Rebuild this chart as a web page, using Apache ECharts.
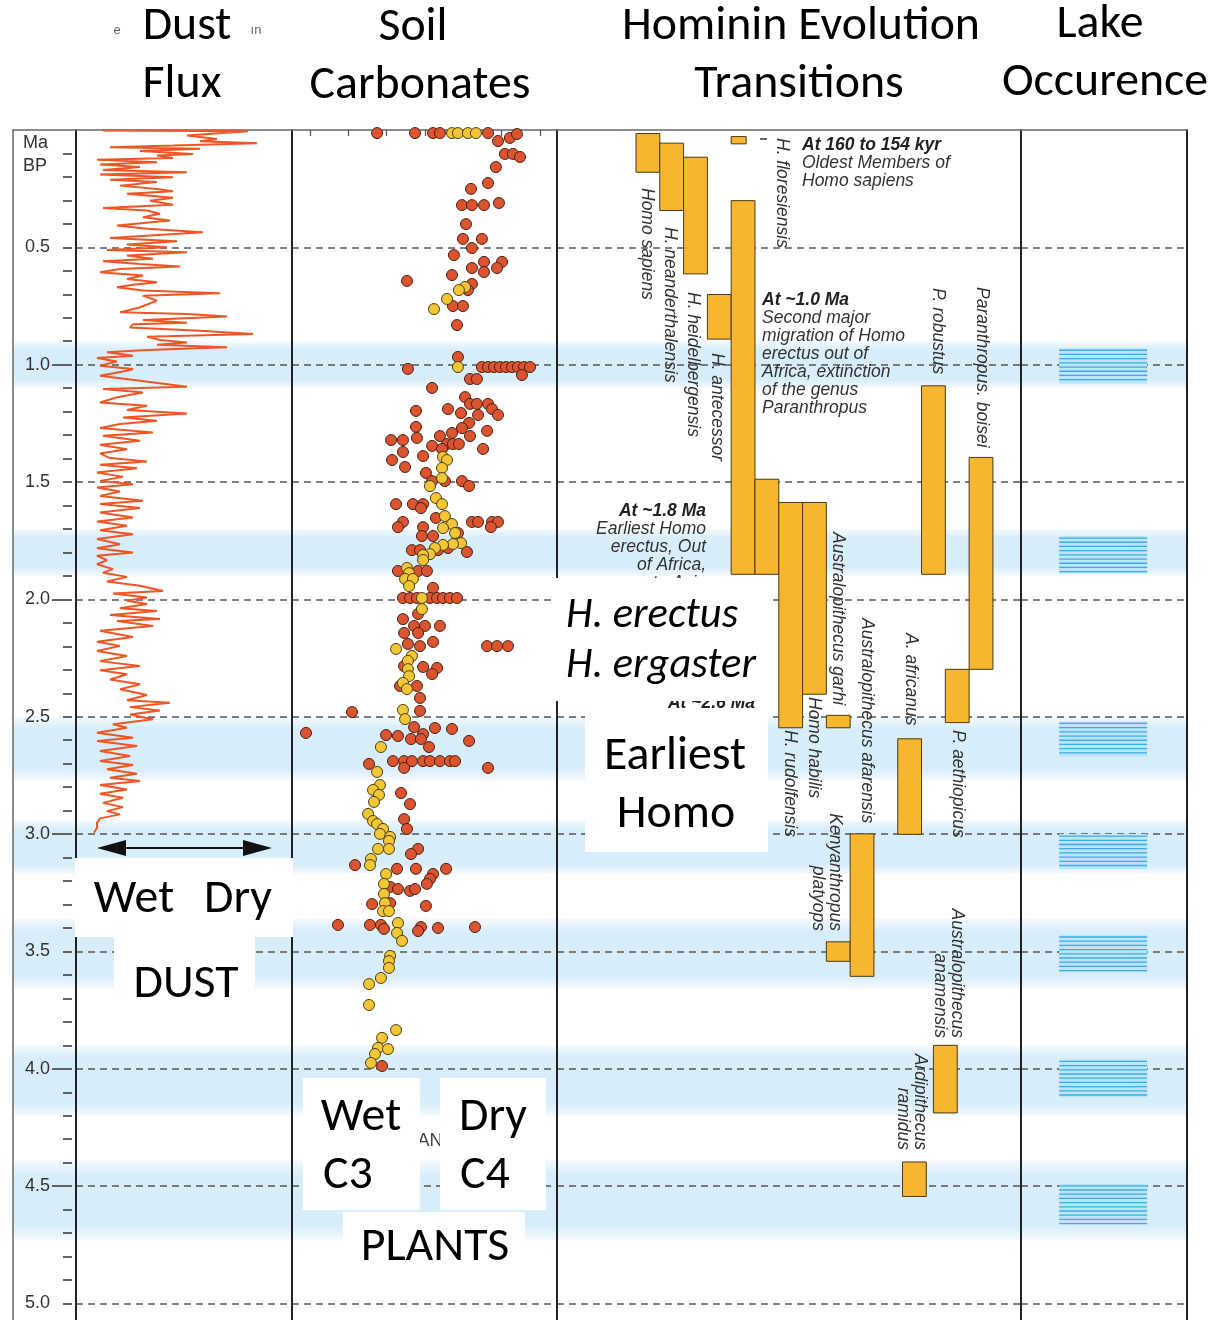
<!DOCTYPE html>
<html><head><meta charset="utf-8">
<script src="https://cdn.jsdelivr.net/npm/echarts@6/dist/echarts.min.js"></script>
<style>html,body{margin:0;padding:0;background:#fff}#c{width:1225px;height:1320px}</style>
</head><body><div id="c"></div>
<script>
// ---------------- DATA ----------------
// Age axis (Ma BP) tick labels
const ageLabels = [0.5,1.0,1.5,2.0,2.5,3.0,3.5,4.0,4.5,5.0];
const longTickAges = [1.0,2.0,3.0,4.0,4.5];

// Dust flux (arbitrary units, wet -> dry) against age (Ma)
const dustAge = [0.002,0.005,0.023,0.038,0.048,0.056,0.066,0.073,0.080,0.090,0.102,0.109,0.119,0.127,0.137,0.147,0.158,0.170,0.180,0.190,0.201,0.212,0.222,0.237,0.251,0.261,0.272,0.289,0.301,0.318,0.332,0.343,0.357,0.372,0.386,0.407,0.421,0.436,0.450,0.460,0.474,0.488,0.500,0.511,0.521,0.535,0.549,0.559,0.571,0.582,0.592,0.606,0.620,0.635,0.649,0.659,0.670,0.684,0.696,0.706,0.727,0.755,0.777,0.784,0.795,0.810,0.821,0.828,0.841,0.855,0.869,0.881,0.895,0.905,0.915,0.926,0.937,0.947,0.962,0.971,0.986,1.004,1.018,
1.026,1.047,1.068,1.094,1.104,1.118,1.139,1.161,1.175,1.193,1.208,1.225,1.239,1.253,1.270,1.289,1.303,1.324,1.341,1.360,1.378,1.398,1.412,1.426,1.441,1.459,1.478,1.495,1.509,1.523,1.540,1.559,1.580,1.594,1.611,1.630,1.651,1.668,1.686,1.705,1.722,1.743,1.765,1.782,1.800,1.814,1.833,1.850,1.871,1.886,1.904,1.924,1.942,1.964,1.975,1.992,2.006,2.020,2.038,2.049,2.066,2.084,
2.092,2.113,2.134,2.160,2.180,2.198,2.220,2.241,2.263,2.284,2.302,2.319,2.341,2.362,2.383,2.407,2.430,2.440,2.459,2.473,2.490,2.511,2.532,2.547,2.568,2.589,2.603,2.625,2.646,2.667,2.689,2.706,2.724,2.743,2.760,2.774,2.791,2.810,2.828,2.845,2.867,2.885,2.902,2.916,2.933,2.952,2.973,2.994];
const dustFlux = [27,172,111,141,124,181,97,34,124,64,117,81,97,21,81,24,64,27,111,24,97,34,81,44,81,97,51,97,74,97,27,71,84,67,94,41,71,127,74,34,101,51,91,31,111,51,77,27,64,104,44,24,67,51,81,57,41,67,144,67,81,64,44,111,151,67,111,57,54,124,177,71,84,111,81,151,71,31,57,21,41,24,57,
51,24,64,111,27,67,41,24,71,51,111,47,81,44,24,77,27,64,24,51,24,34,71,24,61,21,47,24,57,21,44,24,67,24,64,24,57,21,51,24,57,21,44,21,57,21,31,21,37,27,51,31,64,87,37,71,51,71,44,81,34,84,
41,77,24,57,21,44,21,51,24,64,24,51,34,64,44,71,51,94,54,84,54,77,37,51,21,57,21,61,24,54,24,57,31,61,34,64,24,51,24,47,27,47,31,44,24,21,21,18];

// Soil carbonate d13C (per mil) vs age (Ma): C4-rich (red) and C3-rich (yellow) samples
const soilRed = [[-8.50,0.013],[-6.52,0.013],[-5.58,0.013],[-5.22,0.013],[-2.71,0.013],[-1.57,0.034],[-1.20,0.017],[-2.19,0.047],[-1.83,0.102],[-1.41,0.102],[-1.04,0.115],[-2.30,0.158],[-2.71,0.226],[-3.60,0.251],[-2.14,0.311],[-4.07,0.320],[-3.55,0.320],[-2.92,0.320],[-3.86,0.401],[-4.02,0.464],[-3.03,0.464],[-3.55,0.503],[-4.49,0.533],[-2.92,0.562],[-1.98,0.562],[-3.55,0.588],[-2.24,0.588],[-2.92,0.605],[-4.59,0.618],[-6.94,0.643],[-3.55,0.656],[-3.76,0.682],[-4.54,0.750],[-4.02,0.750],[-4.33,0.831],[-4.28,0.967],[-6.89,1.018],
[-3.03,1.010],[-2.71,1.010],[-2.40,1.010],[-2.09,1.010],[-1.77,1.010],[-1.46,1.010],[-1.15,1.010],[-0.83,1.010],[-0.52,1.010],
[-0.94,1.044],[-3.65,1.061],[-3.29,1.061],[-5.63,1.099],[-3.91,1.138],[-3.65,1.167],[-3.29,1.167],[-2.71,1.167],[-4.80,1.189],[-2.50,1.189],[-6.47,1.197],[-4.12,1.206],[-3.23,1.214],[-2.19,1.214],[-3.70,1.248],[-6.47,1.265],[-4.07,1.270],[-2.76,1.282],[-4.59,1.291],[-5.22,1.304],[-3.65,1.304],[-6.42,1.312],[-7.77,1.321],[-7.15,1.321],[-4.85,1.338],[-4.54,1.338],[-4.23,1.338],[-5.63,1.346],[-5.11,1.359],[-2.97,1.359],[-7.15,1.372],[-6.10,1.389],[-7.72,1.406],[-7.04,1.436],[-5.95,1.461],[-5.63,1.496],[-4.96,1.496],[-4.07,1.496],[-3.70,1.517],[-7.51,1.594],[-6.63,1.594],[-6.10,1.594],[-6.21,1.611],[-5.43,1.653],[-7.15,1.670],[-3.55,1.670],[-3.23,1.670],[-2.50,1.670],[-2.19,1.670],[-7.41,1.692],[-6.10,1.692],[-2.56,1.692],[-4.28,1.717],[-6.16,1.730],[-5.58,1.730],[-4.80,1.781],[-6.68,1.790],[-6.26,1.790],[-5.32,1.790],[-3.81,1.798],[-7.41,1.879],[-6.36,1.879],[-5.90,1.879],[-5.58,1.951],
[-7.15,1.994],[-6.78,1.994],[-6.42,1.994],[-5.74,1.994],[-5.37,1.994],[-5.06,1.994],[-4.70,1.994],[-4.33,1.994],
[-6.36,2.062],[-7.15,2.084],[-6.57,2.113],[-6.00,2.113],[-5.22,2.113],[-7.09,2.143],[-6.36,2.143],[-6.89,2.190],[-6.26,2.199],[-5.58,2.181],[-2.76,2.199],[-2.24,2.199],[-1.67,2.199],[-7.09,2.284],[-6.10,2.288],[-5.37,2.292],[-5.63,2.318],[-7.30,2.369],[-6.42,2.369],[-6.26,2.420],[-6.26,2.475],[-9.81,2.480],[-6.57,2.544],[-5.48,2.548],[-4.59,2.552],[-12.21,2.569],[-8.03,2.578],[-7.41,2.582],[-6.10,2.574],[-6.73,2.595],[-6.21,2.595],[-3.70,2.603],[-5.79,2.629],
[-7.67,2.689],[-7.09,2.689],[-6.68,2.689],[-6.10,2.689],[-5.74,2.689],[-5.22,2.689],[-4.70,2.689],[-4.43,2.689],
[-8.92,2.701],[-7.09,2.718],[-2.71,2.718],[-7.25,2.825],[-6.78,2.872],[-7.09,2.936],[-6.94,2.978],[-6.36,3.063],[-6.73,3.085],[-9.65,3.132],[-7.46,3.148],[-6.47,3.148],[-4.90,3.148],[-5.58,3.170],[-5.74,3.191],[-5.90,3.212],[-7.82,3.225],[-7.41,3.234],[-6.78,3.242],[-6.52,3.234],[-7.82,3.294],[-8.76,3.298],[-5.95,3.306],[-10.54,3.387],[-8.87,3.387],[-8.30,3.387],[-5.32,3.400],[-3.39,3.396],[-6.21,3.396],[-8.14,3.404],[-6.36,3.413],[-8.24,3.988]];
const soilYellow = [[-4.59,0.013],[-4.28,0.013],[-3.76,0.013],[-3.34,0.013],[-3.91,0.669],[-4.23,0.682],[-4.85,0.720],[-5.53,0.763],[-4.28,1.010],[-5.06,1.393],[-4.85,1.406],[-5.11,1.440],[-5.11,1.483],[-5.74,1.517],[-5.43,1.568],[-5.11,1.594],[-4.96,1.645],[-4.59,1.679],[-5.06,1.696],[-4.43,1.717],[-4.12,1.760],[-4.54,1.764],[-5.06,1.768],[-5.48,1.781],[-5.74,1.807],[-6.10,1.811],[-6.10,1.832],[-6.94,1.866],[-6.83,1.888],[-7.04,1.913],[-6.63,1.913],[-6.83,1.943],[-6.16,1.994],[-6.16,2.041],[-7.51,2.211],[-6.68,2.241],[-6.89,2.262],[-6.89,2.297],[-6.83,2.327],[-7.15,2.356],[-6.94,2.382],[-7.15,2.471],[-7.04,2.510],[-8.30,2.629],[-8.50,2.735],[-8.35,2.791],[-8.71,2.812],[-8.40,2.833],[-8.66,2.863],[-8.97,2.914],[-8.71,2.944],[-8.50,2.957],[-8.19,2.978],[-8.35,2.999],[-7.82,3.012],[-7.88,3.029],[-8.45,3.063],[-7.88,3.063],[-8.82,3.106],[-8.87,3.132],[-8.03,3.170],[-8.14,3.212],[-8.14,3.255],[-8.09,3.294],[-8.19,3.328],[-7.88,3.328],[-7.41,3.379],[-7.46,3.421],[-7.20,3.455],[-7.82,3.519],[-7.88,3.541],[-7.88,3.570],[-8.30,3.613],[-8.92,3.639],[-8.92,3.728],[-7.51,3.835],[-8.24,3.868],[-8.45,3.911],[-7.93,3.916],[-8.61,3.937],[-8.82,3.975]];
const soilTicks = [-12,-10,-8,-6,-4,-2,0];

// Hominin taxa: lane (column), first and last appearance (Ma)
const taxa    = ['Homo sapiens','H. neanderthalensis','H. heidelbergensis','H. floresiensis','H. antecessor','H. erectus','H. ergaster','H. rudolfensis','Homo habilis','Australopithecus garhi','Kenyanthropus platyops','Australopithecus afarensis','A. africanus','Ardipithecus ramidus','P. robustus','Australopithecus anamensis','P. aethiopicus','Paranthropus boisei'];
const taxaLane  = [0,1,2,4,3,4,5,6,7,8,8,9,11,11.2,12,12.5,13,14];
const taxaStart = [0.015,0.056,0.116,0.028,0.701,0.301,1.488,1.587,1.587,2.494,3.459,2.999,2.594,4.397,1.090,3.900,2.298,1.395];
const taxaEnd   = [0.180,0.343,0.613,0.059,0.891,1.893,1.893,2.547,2.404,2.547,3.542,3.606,3.001,4.544,1.893,4.188,2.525,2.298];

// Lake highstand bands (background) and lake occurrence blocks (Ma)
const bandTop    = [0.90,1.70,2.50,2.94,3.36,3.90,4.39];
const bandBottom = [1.10,1.90,2.77,3.17,3.66,4.20,4.73];
const lakeTop    = [0.93,1.73,2.52,3.00,3.43,3.96,4.49];
const lakeBottom = [1.08,1.89,2.67,3.15,3.59,4.12,4.66];

// ---------------- LAYOUT ----------------
const TOP = 130, PXMA = 234.7, H = 1190, AGE_MAX = H / PXMA;
const minorTicks = []; for (let i = 1; i <= 50; i++) minorTicks.push(i / 10);

const BIG = 'Carlito, Lato, "Open Sans", sans-serif';
const SANS = '"Liberation Sans", Arial, Helvetica, sans-serif';
const cx = document.createElement('canvas').getContext('2d');
function tw(t, font) { cx.font = font; return cx.measureText(t).width; }
const bigSize = 100 * 358 / tw('Hominin Evolution', '100px ' + BIG);
const itSize = 100 * 190 / tw('H. ergaster', 'italic 100px ' + BIG);

const chart = echarts.init(document.getElementById('c'), null, {renderer: 'canvas', width: 1225, height: 1320});

const dash = {show: true, showMinLine: false, showMaxLine: false, lineStyle: {type: [7, 5], color: '#555', width: 1.5}};
function yA(grid, extra) {
  return Object.assign({gridIndex: grid, type: 'value', inverse: true, min: 0, max: AGE_MAX, interval: 0.5, z: 1,
    axisLabel: {show: false}, axisTick: {show: false}, axisLine: {show: false, onZero: false}, splitLine: {show: false}}, extra);
}
const blackLine = {show: true, onZero: false, lineStyle: {color: '#222', width: 2}};
const grayLine = {show: true, onZero: false, lineStyle: {color: '#666', width: 1.5}};

// graphics
const G = [];
function txt(t, x, y, o, z) {
  const st = Object.assign({text: t, fill: '#000', fontFamily: BIG, fontSize: bigSize, textAlign: 'center', align: 'center', textVerticalAlign: 'middle', verticalAlign: 'middle'}, o || {});
  G.push({type: 'text', x: x, y: y, z: z || 101, style: st, silent: true});
}
function box(x, y, w, h) { G.push({type: 'rect', z: 100, shape: {x: x, y: y, width: w, height: h}, style: {fill: '#fff'}, silent: true}); }
function small(t, x, y, o, z) {
  txt(t, x, y, Object.assign({fontFamily: SANS, fontSize: 17.5, fontStyle: 'italic', fill: '#333', textAlign: 'left', align: 'left'}, o || {}), z || 50);
}
function vlab(t, x, y, align) {
  G.push({type: 'text', x: x, y: y, rotation: -Math.PI / 2, z: 50, silent: true,
    style: {text: t, fill: '#333', fontFamily: SANS, fontSize: 17.5, fontStyle: 'italic', lineHeight: 17,
      textAlign: align || 'left', align: align || 'left', textVerticalAlign: 'middle', verticalAlign: 'middle'}});
}
const L = {textAlign: 'left', align: 'left'};

// headers
txt('Dust', 187, 27); txt('Flux', 182, 85);
txt('Soil', 413, 28); txt('Carbonates', 420, 86);
txt('Hominin Evolution', 801, 27); txt('Transitions', 799, 85);
txt('Lake', 1100, 25); txt('Occurence', 1105, 83);
txt('e', 117, 30, {fontFamily: SANS, fontSize: 13, fill: '#666'});
txt('ın', 256, 30, {fontFamily: SANS, fontSize: 13, fill: '#666'});
// Ma BP
txt('Ma', 23, 143, Object.assign({fontFamily: SANS, fontSize: 18, fill: '#333'}, L), 60);
txt('BP', 23, 166, Object.assign({fontFamily: SANS, fontSize: 18, fill: '#333'}, L), 60);

// annotations in hominin panel
small('At 160 to 154 kyr', 802, 145, {fontWeight: 'bold', fill: '#222'});
small('Oldest Members of', 802, 163);
small('Homo sapiens', 802, 181);
small('At ~1.0 Ma', 762, 300, {fontWeight: 'bold', fill: '#222'});
['Second major', 'migration of Homo', 'erectus out of', 'Africa, extinction', 'of the genus', 'Paranthropus'].forEach((s, i) => small(s, 762, 318 + 18 * i));
small('At ~1.8 Ma', 706, 511, {fontWeight: 'bold', fill: '#222', textAlign: 'right', align: 'right'});
['Earliest Homo', 'erectus, Out', 'of Africa,', 'to Asia'].forEach((s, i) => small(s, 706, 529 + 18 * i, {textAlign: 'right', align: 'right'}));
small('At ~2.6 Ma', 755, 703, {fontWeight: 'bold', fill: '#222', textAlign: 'right', align: 'right'}, 60);
G.push({type: 'line', z: 50, shape: {x1: 760, y1: 139, x2: 767, y2: 139}, style: {stroke: '#333', lineWidth: 1.5}});

// rotated taxon labels
vlab('Homo sapiens', 647, 188);
vlab('H. neanderthalensis', 670, 227);
vlab('H. heidelbergensis', 693, 292);
vlab('H. antecessor', 717, 353);
vlab('H. floresiensis', 782, 138);
vlab('P. robustus', 938, 288);
vlab('Paranthropus. boisei', 982, 287);
vlab('Australopithecus garhi', 838, 532);
vlab('Australopithecus afarensis', 867, 618);
vlab('A. africanus', 911, 633);
vlab('P. aethiopicus', 958, 730);
vlab('H. rudolfensis', 790, 730);
vlab('Homo habilis', 814, 697);
vlab('Kenyanthropus\nplatyops', 826, 931, 'right');
vlab('Australopithecus\nanamensis', 948, 1038, 'right');
vlab('Ardipithecus\nramidus', 911, 1150, 'right');

// dust arrow
G.push({type: 'line', z: 60, shape: {x1: 115, y1: 848, x2: 255, y2: 848}, style: {stroke: '#111', lineWidth: 2}});
G.push({type: 'polygon', z: 60, shape: {points: [[97, 848], [126, 840], [126, 856]]}, style: {fill: '#111'}});
G.push({type: 'polygon', z: 60, shape: {points: [[272, 848], [243, 840], [243, 856]]}, style: {fill: '#111'}});

// partially hidden remnant text
txt('AN', 430, 1141, {fontFamily: SANS, fontSize: 18, fill: '#444'}, 60);

// white label boxes
box(75, 858, 218, 79); txt('Wet', 134, 900); txt('Dry', 238, 900);
box(114, 937, 141, 74); txt('DUST', 186, 985);
box(303, 1078, 117, 132); txt('Wet', 361, 1118); txt('C3', 323, 1176, L);
box(440, 1078, 106, 132); txt('Dry', 493, 1118); txt('C4', 460, 1176, L);
box(343, 1212, 182, 70); txt('PLANTS', 435, 1248);
box(555, 578, 213, 123);
txt('H. erectus', 566, 616, Object.assign({fontStyle: 'italic', fontSize: itSize}, L));
txt('H. ergaster', 566, 666, Object.assign({fontStyle: 'italic', fontSize: itSize}, L));
box(585, 713, 183, 139); txt('Earliest', 675, 757); txt('Homo', 676, 815);

const option = {
  animation: false,
  backgroundColor: '#fff',
  grid: [
    {left: 13, top: TOP, width: 1174, height: H},
    {left: 76, top: TOP, width: 216, height: H},
    {left: 292, top: TOP, width: 265, height: H},
    {left: 557, top: TOP, width: 464, height: H},
    {left: 1021, top: TOP, width: 166, height: H}
  ],
  xAxis: [
    {gridIndex: 0, type: 'value', min: 0, max: 1, position: 'top', z: 1, axisLine: grayLine,
      axisTick: {show: false}, axisLabel: {show: false}, splitLine: {show: false}},
    {gridIndex: 1, type: 'value', min: 0, max: 216, show: false},
    {gridIndex: 2, type: 'value', min: -12.94, max: 0.89, position: 'top', z: 1,
      axisLine: {show: false, onZero: false}, splitLine: {show: false}, axisLabel: {show: false},
      axisTick: {show: true, inside: true, length: 6, customValues: soilTicks, lineStyle: {color: '#555', width: 1.3}}},
    {gridIndex: 3, type: 'value', min: -3.32, max: 16.18, show: false},
    {gridIndex: 4, type: 'value', min: 0, max: 1, show: false}
  ],
  yAxis: [
    yA(0, {axisLine: grayLine}),
    yA(1, {axisLine: blackLine, splitLine: dash}),
    yA(1, {position: 'left', offset: 4,
      axisTick: {show: true, customValues: minorTicks, length: 9, lineStyle: {color: '#333', width: 1.5}},
      axisLabel: {show: true, customValues: ageLabels, formatter: v => Number(v).toFixed(1), margin: 22, fontSize: 18, fontFamily: SANS, color: '#333'}}),
    yA(1, {position: 'left', offset: 4,
      axisTick: {show: true, customValues: longTickAges, length: 20, lineStyle: {color: '#333', width: 1.5}}}),
    yA(2, {axisLine: blackLine, splitLine: dash}),
    yA(3, {axisLine: blackLine, splitLine: dash}),
    yA(4, {axisLine: blackLine, splitLine: dash}),
    yA(4, {position: 'right', axisLine: blackLine})
  ],
  graphic: {elements: G},
  series: [
    {type: 'custom', name: 'bands', xAxisIndex: 0, yAxisIndex: 0, z: 0, silent: true,
      data: bandTop.map((t, i) => [t, bandBottom[i]]),
      renderItem: (p, api) => {
        const a = api.coord([0, api.value(0)]), b = api.coord([1, api.value(1)]);
        return {type: 'rect', shape: {x: a[0], y: a[1], width: b[0] - a[0], height: b[1] - a[1]},
          style: {fill: new echarts.graphic.LinearGradient(0, 0, 0, 1, [
            {offset: 0, color: 'rgba(214,236,250,0.25)'}, {offset: 0.18, color: 'rgba(214,236,250,0.95)'},
            {offset: 0.82, color: 'rgba(214,236,250,0.95)'}, {offset: 1, color: 'rgba(214,236,250,0.25)'}])}};
      }},
    {type: 'line', name: 'Dust flux', xAxisIndex: 1, yAxisIndex: 1, z: 3, symbol: 'none', silent: true,
      data: dustAge.map((a, i) => [dustFlux[i], a]), lineStyle: {color: '#EE5626', width: 2}},
    {type: 'scatter', name: 'C4', xAxisIndex: 2, yAxisIndex: 4, z: 3, symbolSize: 11, silent: true, data: soilRed,
      itemStyle: {color: '#DB542F', borderColor: '#4a2216', borderWidth: 1, opacity: 1}},
    {type: 'scatter', name: 'C3', xAxisIndex: 2, yAxisIndex: 4, z: 4, symbolSize: 11, silent: true, data: soilYellow,
      itemStyle: {color: '#F2C634', borderColor: '#4d4216', borderWidth: 1, opacity: 1}},
    {type: 'custom', name: 'taxa', xAxisIndex: 3, yAxisIndex: 5, z: 3, silent: true,
      data: taxa.map((n, i) => [taxaLane[i], taxaStart[i], taxaEnd[i]]),
      renderItem: (p, api) => {
        const name = taxa[p.dataIndex];
        const w = name === 'H. floresiensis' ? 0.63 : 1;
        const a = api.coord([api.value(0), api.value(1)]), b = api.coord([api.value(0) + w, api.value(2)]);
        return {type: 'rect', shape: {x: a[0], y: a[1], width: b[0] - a[0], height: b[1] - a[1]},
          style: {fill: '#F7B62F', stroke: '#4a3a16', lineWidth: 1}};
      }},
    {type: 'custom', name: 'lakes', xAxisIndex: 4, yAxisIndex: 6, z: 3, silent: true,
      data: lakeTop.map((t, i) => [t, lakeBottom[i]]),
      renderItem: (p, api) => {
        const a = api.coord([0.23, api.value(0)]), b = api.coord([0.76, api.value(1)]);
        const ch = [{type: 'rect', shape: {x: a[0], y: a[1], width: b[0] - a[0], height: b[1] - a[1]}, style: {fill: '#BDE4F8'}}];
        for (let y = a[1] + 2; y < b[1]; y += 4.2) ch.push({type: 'line', shape: {x1: a[0], y1: y, x2: b[0], y2: y}, style: {stroke: '#3BAEEA', lineWidth: 1.3}});
        return {type: 'group', children: ch};
      }}
  ]
};
chart.setOption(option);
</script></body></html>
